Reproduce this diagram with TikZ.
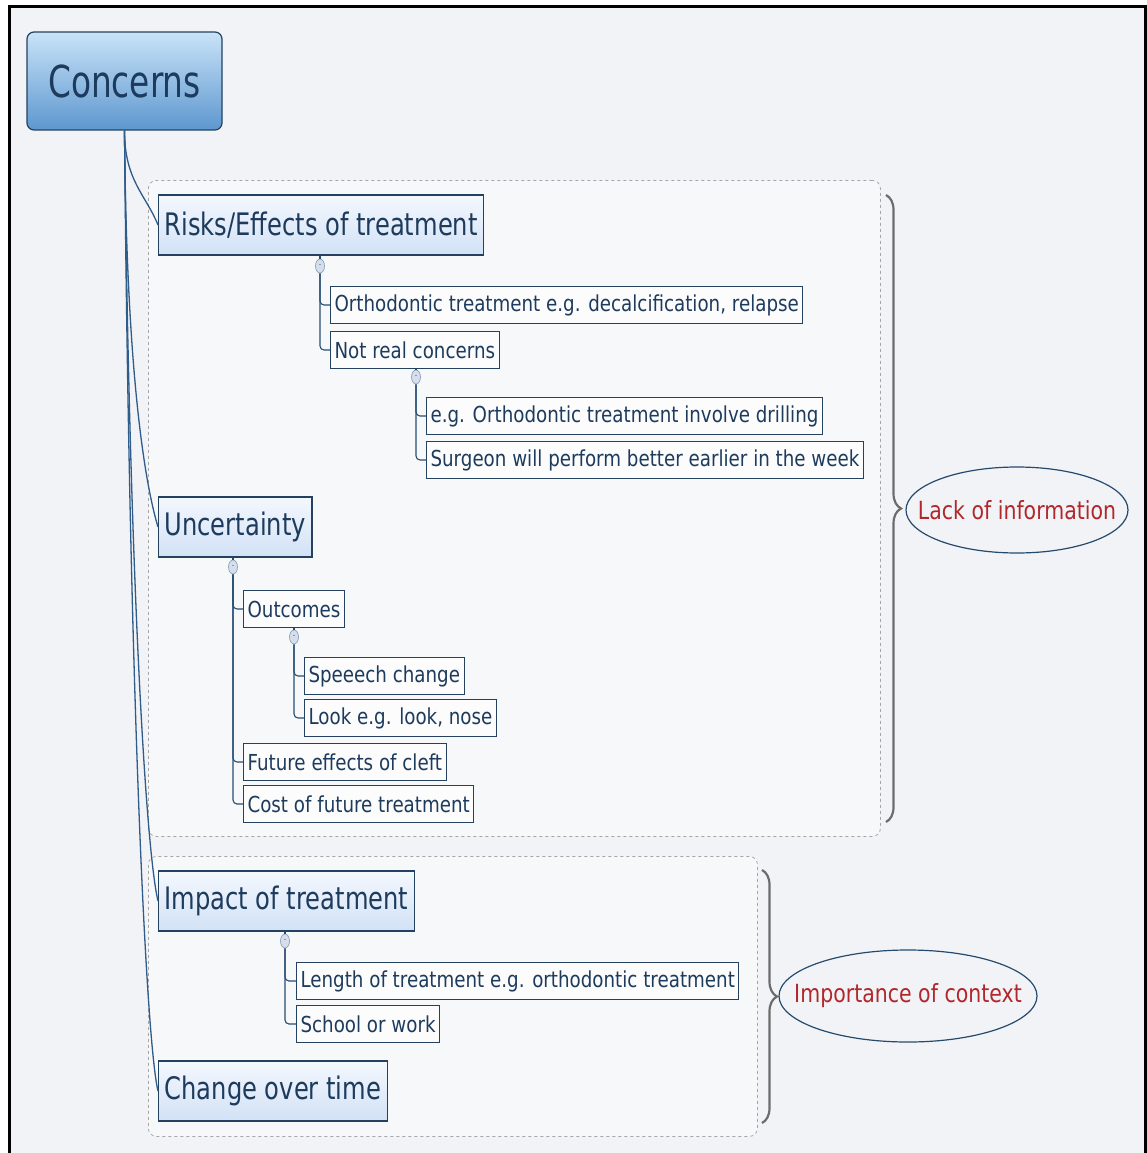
\documentclass[tikz,border=0pt]{standalone}
\usepackage{fontspec}
\setmainfont{DejaVu Sans}[FakeStretch=0.76]
\newfontfamily\rootfont{DejaVu Sans}[FakeStretch=0.745]
\newfontfamily\topicfont{DejaVu Sans}[FakeStretch=0.78]
\newfontfamily\leaffont{DejaVu Sans}[FakeStretch=0.83]
\newfontfamily\remarkfont{DejaVu Sans}[FakeStretch=0.82]
\usetikzlibrary{shapes.geometric,decorations.pathreplacing}

\definecolor{paper}{HTML}{F2F3F7}
\definecolor{groupfill}{HTML}{F7F8FA}
\definecolor{inkblue}{HTML}{1D3B5C}
\definecolor{linkblue}{HTML}{2F5C88}
\definecolor{boxedge}{HTML}{24425F}
\definecolor{topshade}{HTML}{C9E3F8}
\definecolor{botshade}{HTML}{5D97CF}
\definecolor{subtop}{HTML}{F4F8FE}
\definecolor{subbot}{HTML}{D2E1F6}
\definecolor{notered}{HTML}{B0282C}
\definecolor{foldfill}{HTML}{D5DEEA}

\tikzset{
  rootbox/.style={draw=boxedge, line width=1.2, rounded corners=7,
    top color=topshade, bottom color=botshade, text=inkblue,
    minimum width=195, minimum height=98, font=\rootfont\fontsize{44}{48}\selectfont},
  topicbox/.style={draw=boxedge, line width=1.3, top color=subtop,
    bottom color=subbot, text=inkblue, anchor=west, inner xsep=6,
    minimum height=60, font=\topicfont\fontsize{31}{34}\selectfont},
  leafbox/.style={draw=boxedge, line width=1.1, fill=white!60!groupfill,
    text=inkblue, anchor=west, inner xsep=4, minimum height=37,
    font=\leaffont\fontsize{22}{25}\selectfont},
  groupbox/.style={draw=gray!70, dashed, line width=0.8, rounded corners=8,
    fill=groupfill, anchor=north west},
  fold/.style={ellipse, draw=linkblue!55, fill=foldfill, line width=0.7,
    inner sep=0, minimum width=9, minimum height=14, text=linkblue!80,
    font=\fontsize{9}{9}\selectfont},
  trunk/.style={draw=linkblue, line width=1.3},
  branch/.style={draw=linkblue!85!black, line width=1.1, rounded corners=4},
  bracket/.style={draw=gray!85!black, line width=2.2,
    decorate, decoration={brace, amplitude=15}},
  remark/.style={text=notered, font=\remarkfont\fontsize{25}{28}\selectfont},
  rim/.style={draw=linkblue!80!black, line width=1.2}
}

\begin{document}
\begin{tikzpicture}[x=1pt, y=-1pt]
\useasboundingbox (0,0) rectangle (1147,1153);
\fill[white] (0,0) rectangle (1147,1153);
\fill[paper] (10,8) rectangle (1144,1153);
\draw[line width=3] (9,1153) -- (9,7) -- (1145,7) -- (1145,1153);

% dashed groups
\node[groupbox, minimum width=732, minimum height=656] (grpinfo) at (148,180) {};
\node[groupbox, minimum width=609, minimum height=280] (grpctx) at (148,856) {};

% root
\node[rootbox] (root) at (124.5,81) {Concerns};

% first level
\node[topicbox] (risks) at (158,225) {Risks/Effects of treatment};
\node[topicbox] (uncert) at (158,527) {Uncertainty};
\node[topicbox] (impact) at (158,901) {Impact of treatment};
\node[topicbox] (change) at (158,1091) {Change over time};

% leaves
\node[leafbox] (ortho) at (330,305) {Orthodontic treatment e.g. decalcification, relapse};
\node[leafbox] (notreal) at (330,350) {Not real concerns};
\node[leafbox] (drill) at (426,416) {e.g. Orthodontic treatment involve drilling};
\node[leafbox] (surgeon) at (426,460) {Surgeon will perform better earlier in the week};
\node[leafbox] (outcomes) at (243,609) {Outcomes};
\node[leafbox] (speech) at (304,676) {Speeech change};
\node[leafbox] (look) at (304,718) {Look e.g. look, nose};
\node[leafbox] (future) at (243,762) {Future effects of cleft};
\node[leafbox] (cost) at (243,804) {Cost of future treatment};
\node[leafbox] (length) at (296,981) {Length of treatment e.g. orthodontic treatment};
\node[leafbox] (school) at (296,1024) {School or work};

% collapse markers
\node[fold] (risksfold) at (320,266) {-};
\node[fold] (notrealfold) at (416,377) {-};
\node[fold] (uncertfold) at (233,567) {-};
\node[fold] (outcomesfold) at (294,637) {-};
\node[fold] (impactfold) at (285,941) {-};

% trunk lines
\draw[trunk] (root.south) .. controls +(0,50) and +(-12,-30) .. (risks.west);
\draw[trunk] (root.south) .. controls +(2,250) and +(-12,-40) .. (uncert.west);
\draw[trunk] (root.south) .. controls +(5,450) and +(-12,-50) .. (impact.west);
\draw[trunk] (root.south) .. controls +(5,560) and +(-12,-50) .. (change.west);

% branches
\draw[branch] (risks.south -| risksfold) -- (risksfold.north);
\draw[branch] (risksfold.south) |- (notreal.west);
\draw[branch] (risksfold.south) |- (ortho.west);
\draw[branch] (notreal.south -| notrealfold) -- (notrealfold.north);
\draw[branch] (notrealfold.south) |- (surgeon.west);
\draw[branch] (notrealfold.south) |- (drill.west);
\draw[branch] (uncert.south -| uncertfold) -- (uncertfold.north);
\draw[branch] (uncertfold.south) |- (cost.west);
\draw[branch] (uncertfold.south) |- (future.west);
\draw[branch] (uncertfold.south) |- (outcomes.west);
\draw[branch] (outcomes.south -| outcomesfold) -- (outcomesfold.north);
\draw[branch] (outcomesfold.south) |- (look.west);
\draw[branch] (outcomesfold.south) |- (speech.west);
\draw[branch] (impact.south -| impactfold) -- (impactfold.north);
\draw[branch] (impactfold.south) |- (school.west);
\draw[branch] (impactfold.south) |- (length.west);

% braces and remarks
\coordinate (infotop) at (886,195);
\coordinate (infobot) at (886,822);
\coordinate (ctxtop) at (762,870);
\coordinate (ctxbot) at (762,1123);
\draw[bracket] (infotop) -- (infobot);
\draw[bracket] (ctxtop) -- (ctxbot);
\node[remark] (lackinfo) at (1017,510) {Lack of information};
\node[remark] (context) at (908,996) {Importance of context};
\draw[rim] (lackinfo) ellipse [x radius=111, y radius=43];
\draw[rim] (context) ellipse [x radius=129, y radius=46];

\end{tikzpicture}
\end{document}
